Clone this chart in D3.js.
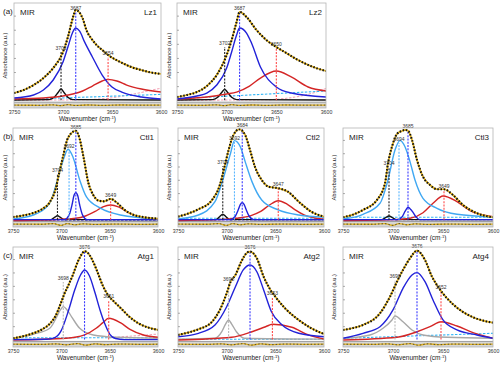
<!DOCTYPE html>
<html>
<head>
<meta charset="utf-8">
<script src="https://cdn.jsdelivr.net/npm/d3@7"></script>
<style>
  body { margin: 0; background: #fff; }
  svg { display: block; font-family: "Liberation Sans", Arial, sans-serif; }
</style>
</head>
<body>
<svg width="500" height="366"></svg>
<script>
// wavenumber axis
const xTicks = [3750, 3700, 3650, 3600];
const yTicks = [14.5, 29, 43.5, 58, 72.5, 87];

// ---- Lz1 ----
const lz1Total = [[3750,7.4],[3740,10.5],[3730,15.6],[3720,22.8],[3710,33.1],[3700,49.6],[3695,65],[3690,84.6],[3687,92.8],[3680,84.3],[3676,72],[3670,62],[3665,56],[3660,51.7],[3654,46.5],[3645,41],[3640,38.5],[3630,34],[3620,31],[3610,28.5],[3600,27]];
const lz1Blue = [[3750,2.3],[3730,5.4],[3720,10.5],[3710,20.8],[3700,39.3],[3695,54.7],[3690,70.2],[3687,74.3],[3683,71],[3678,60],[3670,44.5],[3660,25.9],[3650,13.6],[3640,8.4],[3620,3.3],[3600,1.2]];
const lz1Red = [[3750,1.2],[3720,2.3],[3700,4.3],[3690,6.4],[3680,9.5],[3670,14.6],[3660,19.8],[3654,21.4],[3645,19.8],[3635,15.6],[3620,11.5],[3600,8.4]];
const lz1Black = [[3750,0.3],[3714,0.6],[3709,3],[3705,8],[3702,11.5],[3699,8],[3695,3],[3690,0.6],[3600,0.3]];
const lz1Cyan = [[3750,0.5],[3600,6]];
const lz1Pink = [[3750,0],[3680,0.5],[3650,2.5],[3630,6],[3600,12.5]];
const lz1Peaks = [[3702,"black",51.7],[3687,"blue",93.3],[3654,"red",46.5]];

// ---- Lz2 ----
const lz2Total = [[3750,3.3],[3740,5.4],[3730,8.4],[3720,14.6],[3710,25.9],[3700,46.5],[3695,61.9],[3690,80.5],[3687,90.8],[3680,85.6],[3670,72.2],[3660,61.9],[3650,54.7],[3640,48.6],[3630,42.4],[3620,37.2],[3610,33.1],[3600,30]];
const lz2Blue = [[3750,1.2],[3730,4.3],[3720,7.4],[3710,15.6],[3700,33.1],[3695,49.6],[3690,67.1],[3687,74.3],[3680,69.1],[3675,58.9],[3666,34.2],[3650,13.6],[3635,7.4],[3600,3.3]];
const lz2Red = [[3750,1.2],[3720,3.3],[3700,6.4],[3690,8.4],[3677,14.6],[3666,22.8],[3650,30],[3635,23.9],[3618,13.6],[3600,9.5]];
const lz2Black = [[3750,0.3],[3714,0.6],[3709,3],[3705,8],[3702,11.2],[3699,8],[3695,3],[3690,0.6],[3600,0.3]];
const lz2Cyan = [[3750,1.5],[3600,9.5]];
const lz2Pink = [[3750,0],[3660,0.5],[3640,2],[3620,5.5],[3600,12]];
const lz2Peaks = [[3702,"black",56.8],[3687,"blue",92.8],[3650,"red",55.8]];

// ---- Ctl1 ----
const ctl1Total = [[3750,2.9],[3740,4.5],[3730,7],[3720,11.5],[3712,19],[3706,33],[3702,52],[3698,70],[3694,87],[3690,94],[3685,97],[3681,88],[3677,68],[3672,40],[3667,27],[3662,21],[3656,20],[3649,22.6],[3642,18],[3635,11],[3627,6],[3615,2.8],[3600,1.2]];
const ctl1Light = [[3750,0.8],[3729,5.1],[3712,18.2],[3704,43.3],[3698,65.1],[3693,76.8],[3688,68.4],[3681,43.3],[3674,24.8],[3660,12.8],[3639,5.1],[3600,0.8]];
const ctl1Blue = [[3750,0],[3697,0],[3692,5],[3689,16],[3687,26],[3685,29.5],[3683,26],[3681,16],[3678,5],[3673,0],[3600,0]];
const ctl1Red = [[3750,-1],[3700,0.5],[3685,1.5],[3675,4],[3665,9],[3657,14],[3649,16],[3641,14],[3632,8.5],[3622,3.5],[3610,1],[3600,0.5]];
const ctl1Black = [[3750,0],[3711,0],[3707,2.5],[3704,4.2],[3701,2.5],[3697,0],[3600,0]];
const ctl1Cyan = [[3750,0],[3600,0]];
const ctl1Purple = [[3750,-0.6],[3600,-0.6]];
const ctl1Peaks = [[3704,"black",52],[3692,"light",78.2],[3685,"blue",99],[3649,"red",24.8]];

// ---- Ctl2 ----
const ctl2Total = [[3750,3.3],[3740,6.5],[3729,11.3],[3715,21.5],[3707,37.9],[3703,54.2],[3698,76],[3693,92.4],[3687,98.6],[3681,92.4],[3676,76],[3671,57.8],[3664,43.3],[3657,36],[3647,34.3],[3637,30.5],[3626,19.6],[3613,8.7],[3600,3.3]];
const ctl2Light = [[3750,0.8],[3729,5.1],[3712,19.6],[3704,43.3],[3696,72.4],[3692,86.2],[3686,79.6],[3681,63.3],[3674,41.5],[3664,21.5],[3647,10.6],[3626,5.1],[3600,2.9]];
const ctl2Blue = [[3750,0],[3696,0],[3691,4],[3688,11],[3686,16.5],[3684,18.5],[3682,16.5],[3680,11],[3677,4],[3672,0],[3600,0]];
const ctl2Red = [[3750,-1],[3710,0],[3690,1.5],[3675,4.5],[3665,9],[3656,16],[3647,20.7],[3638,17],[3630,11],[3620,5],[3608,1.5],[3600,0.5]];
const ctl2Black = [[3750,0],[3711,0],[3707,3.5],[3704,5.9],[3701,3.5],[3697,0],[3600,0]];
const ctl2Cyan = [[3750,1.5],[3600,1.5]];
const ctl2Purple = [[3750,-0.3],[3600,-0.3]];
const ctl2Peaks = [[3704,"black",60.8],[3692,"light",87],[3684,"blue",101],[3647,"red",36.8]];

// ---- Ctl3 ----
const ctl3Total = [[3750,2.6],[3740,5.5],[3730,10.6],[3716,21.5],[3708,39.7],[3705,61.5],[3701,79.6],[3696,93.5],[3691,96.8],[3688,97.9],[3685,97],[3681,87],[3676,65.1],[3670,46.9],[3663,37.9],[3656,33.2],[3649,33.2],[3640,26.9],[3630,16],[3616,7],[3600,2.6]];
const ctl3Light = [[3750,0.8],[3730,5.8],[3713,17.9],[3705,43.3],[3698,76],[3693,86.2],[3688,79.6],[3683,63.3],[3678,43.3],[3670,23.3],[3656,12.4],[3636,5.9],[3600,2.9]];
const ctl3Blue = [[3750,0],[3696,0],[3691,3],[3688,9],[3686,12.5],[3685,13.5],[3683,12],[3680,8],[3677,3],[3673,0],[3600,0]];
const ctl3Red = [[3750,-1],[3700,0],[3683,1.5],[3670,7.6],[3660,17.9],[3650,25.9],[3636,19.6],[3623,9.8],[3600,3.3]];
const ctl3Black = [[3750,0],[3711,0],[3707,2.5],[3704,4],[3701,2.5],[3697,0],[3600,0]];
const ctl3Cyan = [[3750,2.6],[3600,2.6]];
const ctl3Purple = [[3750,0],[3600,0]];
const ctl3Peaks = [[3704,"black",59.7],[3694,"light",85.9],[3685,"blue",100],[3649,"red",34.6]];

// ---- Atg1 ----
const atg1Total = [[3750,1.4],[3740,3.5],[3730,6.5],[3720,11],[3712,17],[3706,25.5],[3701,38],[3697,49],[3693,58],[3688,70],[3683,84],[3679,92],[3676,95.5],[3672,93],[3668,86],[3663,74],[3657,58],[3651,47],[3645,40.5],[3638,33.5],[3630,25],[3620,17.5],[3610,13],[3600,10.5]];
const atg1Blue = [[3750,0],[3715,0.3],[3708,1.5],[3700,10],[3693,30],[3686,54],[3680,70],[3676,75.2],[3671,69],[3665,50],[3660,32],[3655,17],[3650,6],[3644,1.2],[3635,0],[3600,0]];
const atg1Gray = [[3750,1.4],[3729,5.8],[3712,12.2],[3705,24],[3701,32],[3698,35.6],[3694,32],[3689,24],[3681,12.2],[3667,5],[3643,2.5],[3600,1.4]];
const atg1Red = [[3750,-0.5],[3695,1.4],[3676,5],[3664,12.2],[3657,18.3],[3651,23],[3639,18.3],[3629,11.1],[3615,5],[3600,2.5]];
const atg1Cyan = [[3750,2],[3600,2]];
const atg1Pink = [[3650,2],[3600,6]];
const atg1Peaks = [[3698,"gray",64.4],[3676,"blue",97.8],[3651,"red",44.9]];

// ---- Atg2 ----
const atg2Total = [[3750,5],[3740,7.5],[3729,11.1],[3715,19.3],[3707,32],[3700,50],[3696,62.5],[3691,69.8],[3685,84.1],[3679,93.9],[3676,95],[3669,87.8],[3662,67.9],[3655,53.6],[3650,46.3],[3640,33.8],[3626,21.2],[3613,12.2],[3600,6]];
const atg2Blue = [[3750,3.1],[3729,6.8],[3712,15.8],[3700,35.5],[3691,57.1],[3683,75.2],[3676,80.6],[3669,73.3],[3662,53.6],[3654,30.1],[3643,15.8],[3626,6.8],[3600,3.1]];
const atg2Gray = [[3750,0.5],[3712,1.4],[3705,8.5],[3701,17],[3698,21.2],[3695,17],[3690,8.5],[3682,1.5],[3600,0.5]];
const atg2Red = [[3750,-0.4],[3695,2.5],[3674,8.5],[3660,13.9],[3653,16.5],[3633,13.3],[3616,5],[3600,0.7]];
const atg2Cyan = [[3750,0.3],[3600,0.3]];
const atg2Peaks = [[3698,"gray",63.3],[3676,"blue",97.8],[3653,"red",48.2]];

// ---- Atg4 ----
const atg4Total = [[3750,10.4],[3740,12.5],[3730,15.8],[3713,28.4],[3703,46.3],[3696,62.5],[3690,75.2],[3683,87.8],[3676,96],[3668,86],[3661,67.9],[3655,57.1],[3646,44.6],[3633,32],[3620,24.1],[3610,20.5],[3600,18.3]];
const atg4Blue = [[3750,1.4],[3730,6.8],[3713,13.9],[3700,32],[3690,55.4],[3681,69.8],[3676,72.3],[3668,62.5],[3660,42.8],[3650,21.2],[3636,10.4],[3616,5],[3600,1.4]];
const atg4Gray = [[3750,1.4],[3723,5],[3710,12.2],[3701,21.2],[3698,25.5],[3690,19.3],[3681,10.4],[3670,5],[3646,2.5],[3600,1.4]];
const atg4Red = [[3750,-0.4],[3696,2.5],[3676,8.5],[3663,13.9],[3652,19.3],[3636,14.7],[3620,7.5],[3600,1.4]];
const atg4Cyan = [[3750,1.4],[3600,6.8]];
const atg4Peaks = [[3698,"gray",66.5],[3676,"blue",99],[3652,"red",54.6]];

// fit residuals (shown in the grey strip)
const residualA = [[3750,-5],[3725,-5.2],[3710,-4.8],[3702,-5.6],[3695,-4.6],[3687,-5.4],[3675,-4.9],[3660,-5.3],[3640,-4.9],[3620,-5.1],[3600,-5]];
const residualB = [[3750,-4.8],[3720,-5],[3708,-4.4],[3700,-6.2],[3694,-4.3],[3686,-5.6],[3678,-4.6],[3665,-5.2],[3645,-4.8],[3620,-5.1],[3600,-4.9]];
const residualC = [[3750,-5],[3720,-5.1],[3705,-4.7],[3695,-5.6],[3683,-4.4],[3675,-6],[3665,-4.6],[3655,-5.5],[3640,-4.8],[3620,-5.1],[3600,-5]];

const colors = {
  blue: "#2222d8", red: "#d42626", light: "#40a8f2", gray: "#a8a8a8",
  black: "#111111", gold: "#e2b21c", cyan: "#33b5f5", pink: "#f3a6b8", purple: "#7b62e0"
};
const vColors = {
  blue: "#3b3bff", red: "#ff4a4a", light: "#5ab6ff", gray: "#b8b8b8", black: "#222222"
};

const panels = [
  { name: "Lz1", box: [14, 161, 3, 108], letter: "(a)", ylab: 7, total: lz1Total, res: residualA,
    comps: [["black", lz1Black], ["red", lz1Red], ["blue", lz1Blue]], dashed: [["pink", lz1Pink], ["cyan", lz1Cyan]], peaks: lz1Peaks },
  { name: "Lz2", box: [177, 326, 3, 108], ylab: 171, total: lz2Total, res: residualA,
    comps: [["black", lz2Black], ["red", lz2Red], ["blue", lz2Blue]], dashed: [["pink", lz2Pink], ["cyan", lz2Cyan]], peaks: lz2Peaks },
  { name: "Ctl1", box: [13, 158, 128, 227], letter: "(b)", ylab: 7, total: ctl1Total, res: residualB,
    comps: [["black", ctl1Black], ["red", ctl1Red], ["light", ctl1Light], ["blue", ctl1Blue]], dashed: [["cyan", ctl1Cyan], ["purple", ctl1Purple]], peaks: ctl1Peaks },
  { name: "Ctl2", box: [178, 324, 128, 227], ylab: 171, total: ctl2Total, res: residualB,
    comps: [["black", ctl2Black], ["red", ctl2Red], ["light", ctl2Light], ["blue", ctl2Blue]], dashed: [["cyan", ctl2Cyan], ["purple", ctl2Purple]], peaks: ctl2Peaks },
  { name: "Ctl3", box: [343, 493, 128, 227], ylab: 336, total: ctl3Total, res: residualB,
    comps: [["black", ctl3Black], ["red", ctl3Red], ["light", ctl3Light], ["blue", ctl3Blue]], dashed: [["cyan", ctl3Cyan], ["purple", ctl3Purple]], peaks: ctl3Peaks },
  { name: "Atg1", box: [13, 158, 247, 347], letter: "(c)", ylab: 7, total: atg1Total, res: residualC,
    comps: [["gray", atg1Gray], ["red", atg1Red], ["blue", atg1Blue]], dashed: [["pink", atg1Pink], ["cyan", atg1Cyan]], peaks: atg1Peaks },
  { name: "Atg2", box: [178, 324, 247, 347], ylab: 171, total: atg2Total, res: residualC,
    comps: [["gray", atg2Gray], ["red", atg2Red], ["blue", atg2Blue]], dashed: [["cyan", atg2Cyan]], peaks: atg2Peaks },
  { name: "Atg4", box: [343, 493, 247, 347], ylab: 336, total: atg4Total, res: residualC,
    comps: [["gray", atg4Gray], ["red", atg4Red], ["blue", atg4Blue]], dashed: [["cyan", atg4Cyan]], peaks: atg4Peaks }
];

const svg = d3.select("svg");

panels.forEach((p, i) => {
  const [x0, x1, top, bottom] = p.box;
  const x = d3.scaleLinear().domain([3750, 3600]).range([x0, x1]);
  const y = d3.scaleLinear().domain([-8, 100]).range([bottom, top]);
  const line = d3.line().x((d) => x(d[0])).y((d) => y(d[1])).curve(d3.curveMonotoneX);

  const g = svg.append("g");
  g.append("clipPath").attr("id", "clip" + i)
    .append("rect").attr("x", x0).attr("y", top).attr("width", x1 - x0).attr("height", bottom - top);
  const plot = g.append("g").attr("clip-path", `url(#clip${i})`);

  // grey residual strip
  plot.append("rect")
    .attr("x", x0).attr("y", y(-2)).attr("width", x1 - x0).attr("height", y(-8) - y(-2))
    .attr("fill", "#d6d6d6");
  plot.append("line")
    .attr("x1", x0).attr("x2", x1).attr("y1", y(-2)).attr("y2", y(-2))
    .attr("stroke", "#8c8c8c").attr("stroke-width", 0.8);
  plot.append("path").attr("d", line(p.res))
    .attr("fill", "none").attr("stroke", colors.gold).attr("stroke-width", 1.3);
  plot.append("path").attr("d", line(p.res))
    .attr("fill", "none").attr("stroke", "#333").attr("stroke-width", 0.8).attr("stroke-dasharray", "1.5,2");

  // dashed baselines
  p.dashed.forEach(([c, data]) => {
    plot.append("path").attr("d", line(data))
      .attr("fill", "none").attr("stroke", colors[c]).attr("stroke-width", 1.1)
      .attr("stroke-dasharray", "2.5,1.5");
  });

  // fitted components
  p.comps.forEach(([c, data]) => {
    plot.append("path").attr("d", line(data))
      .attr("fill", "none").attr("stroke", colors[c]).attr("stroke-width", 1.4);
  });

  // peak markers
  p.peaks.forEach(([wn, c, lv]) => {
    plot.append("line")
      .attr("x1", x(wn)).attr("x2", x(wn)).attr("y1", y(0)).attr("y2", y(lv) + 2)
      .attr("stroke", vColors[c]).attr("stroke-width", 1.1).attr("stroke-dasharray", "2,1.3");
  });

  // measured spectrum (dots) over the fitted sum (gold)
  plot.append("path").attr("d", line(p.total))
    .attr("fill", "none").attr("stroke", colors.gold).attr("stroke-width", 1.7);
  plot.append("path").attr("d", line(p.total))
    .attr("fill", "none").attr("stroke", "#111").attr("stroke-width", 2.1)
    .attr("stroke-dasharray", "1.5,1.7");

  p.peaks.forEach(([wn, c, lv]) => {
    g.append("text").attr("x", x(wn)).attr("y", y(lv))
      .attr("text-anchor", "middle").attr("font-size", 5).attr("fill", "#333")
      .text(wn);
  });

  // frame
  g.append("rect").attr("x", x0).attr("y", top).attr("width", x1 - x0).attr("height", bottom - top)
    .attr("fill", "none").attr("stroke", "#b5b5b5").attr("stroke-width", 0.8);

  // axes
  const xa = g.append("g").attr("transform", `translate(0,${bottom})`)
    .call(d3.axisBottom(x).tickValues(xTicks).tickSize(0).tickPadding(2.6).tickFormat(d3.format("d")));
  xa.select(".domain").remove();
  xa.selectAll("text").attr("font-size", 5.2).attr("fill", "#333").attr("font-family", "Liberation Sans, Arial, sans-serif");

  const ya = g.append("g").attr("transform", `translate(${x0},0)`)
    .call(d3.axisLeft(y).tickValues(yTicks).tickSize(-2).tickFormat(""));
  ya.select(".domain").remove();
  ya.selectAll("line").attr("stroke", "#777").attr("stroke-width", 0.6);

  const xt = g.append("text").attr("x", (x0 + x1) / 2).attr("y", bottom + 13.2)
    .attr("text-anchor", "middle").attr("font-size", 6.5).attr("fill", "#222");
  xt.append("tspan").text("Wavenumber (cm");
  xt.append("tspan").attr("dy", -2.3).attr("font-size", 4.3).text("-1");
  xt.append("tspan").attr("dy", 2.3).text(")");

  g.append("text")
    .attr("transform", `translate(${p.ylab},${(top + bottom) / 2}) rotate(-90)`)
    .attr("text-anchor", "middle").attr("font-size", 5.8).attr("fill", "#222")
    .text("Absorbance (a.u.)");

  g.append("text").attr("x", x0 + 6).attr("y", top + 12)
    .attr("font-size", 8).attr("fill", "#222").text("MIR");
  g.append("text").attr("x", x1 - 4).attr("y", top + 12)
    .attr("text-anchor", "end").attr("font-size", 8).attr("fill", "#222").text(p.name);

  if (p.letter) {
    svg.append("text").attr("x", 3).attr("y", top + 11)
      .attr("font-size", 8).attr("fill", "#222").text(p.letter);
  }
});
</script>
</body>
</html>
